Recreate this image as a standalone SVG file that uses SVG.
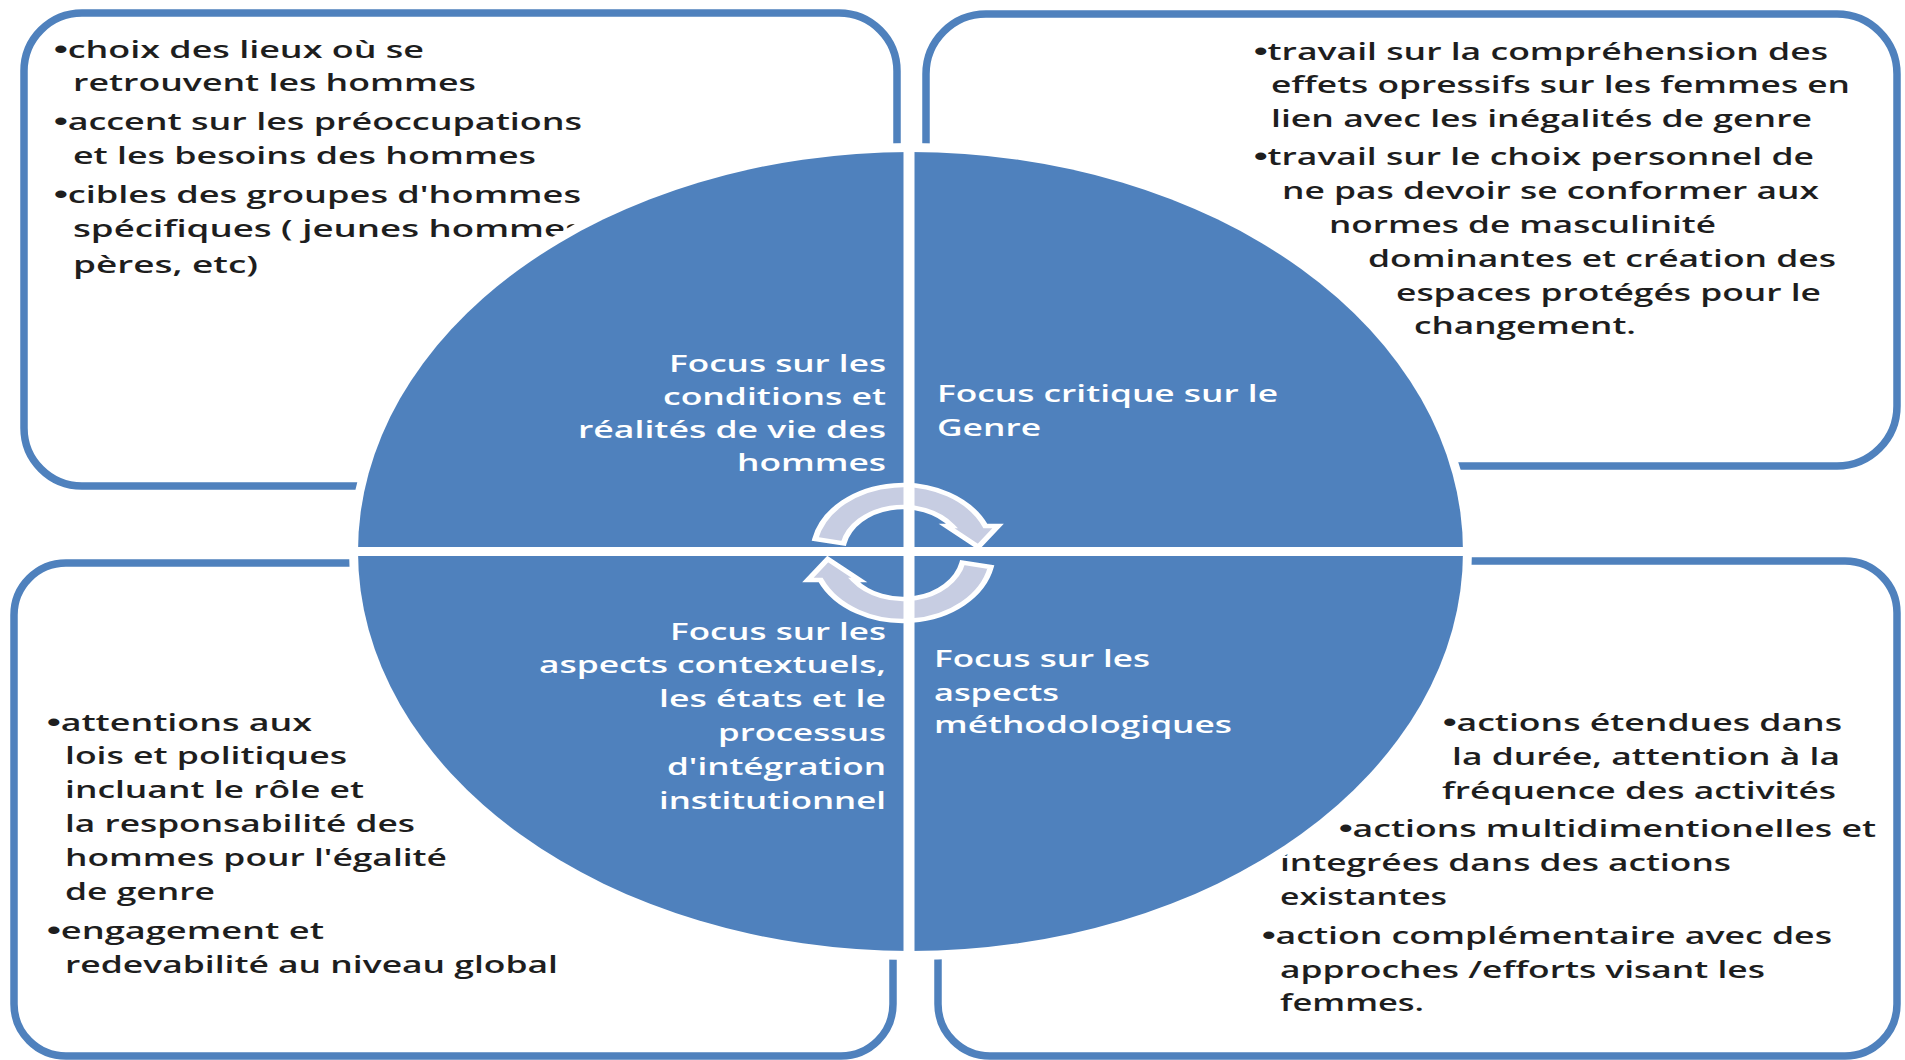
<svg xmlns="http://www.w3.org/2000/svg" width="1905" height="1060" viewBox="0 0 1905 1060">
<defs>
<style>
.box{fill:#fff;stroke:#4F81BD;stroke-width:7.5}
.t{font-family:"Open Sans",Lato,"Liberation Sans",sans-serif;font-size:23px;font-weight:600;fill:#1e1e1e}
.w{font-family:"Open Sans",Lato,"Liberation Sans",sans-serif;font-size:24px;font-weight:600;fill:#fff}
.b{font-family:"Liberation Sans",sans-serif;font-size:25px}
.arr{fill:#C7CDE2;stroke:#fff;stroke-width:4.5;stroke-linejoin:miter}
.div{stroke:#fff;fill:none}
</style>
<path id="arrowShape" d="M -66.5,-14.1 A 68 68 0 0 1 62.4,-27 L 72,-27 L 57,-6 L 33,-27 L 37.2,-27 A 46 46 0 0 0 -45,-9.6 Z"/>
</defs>
<rect width="1905" height="1060" fill="#fff"/>

<g id="box-top-left">
<rect class="box" x="24" y="13" width="873" height="473" rx="58"/>
<text class="t" lengthAdjust="spacingAndGlyphs" x="54" y="58" textLength="370"><tspan class="b">•</tspan>choix des lieux où se</text>
<text class="t" lengthAdjust="spacingAndGlyphs" x="73" y="91" textLength="403">retrouvent les hommes</text>
<text class="t" lengthAdjust="spacingAndGlyphs" x="54" y="130" textLength="528"><tspan class="b">•</tspan>accent sur les préoccupations</text>
<text class="t" lengthAdjust="spacingAndGlyphs" x="73" y="164" textLength="463">et les besoins des hommes</text>
<text class="t" lengthAdjust="spacingAndGlyphs" x="54" y="203" textLength="527"><tspan class="b">•</tspan>cibles des groupes d'hommes</text>
<text class="t" lengthAdjust="spacingAndGlyphs" x="73" y="237" textLength="510">spécifiques ( jeunes hommes</text>
<text class="t" lengthAdjust="spacingAndGlyphs" x="73" y="273" textLength="185">pères, etc)</text>
</g>

<g id="box-top-right">
<rect class="box" x="926" y="14" width="971" height="452" rx="60"/>
<text class="t" lengthAdjust="spacingAndGlyphs" x="1254" y="60" textLength="574"><tspan class="b">•</tspan>travail sur la compréhension des</text>
<text class="t" lengthAdjust="spacingAndGlyphs" x="1271" y="93" textLength="579">effets opressifs sur les femmes en</text>
<text class="t" lengthAdjust="spacingAndGlyphs" x="1271" y="127" textLength="541">lien avec les inégalités de genre</text>
<text class="t" lengthAdjust="spacingAndGlyphs" x="1254" y="165" textLength="560"><tspan class="b">•</tspan>travail sur le choix personnel de</text>
<text class="t" lengthAdjust="spacingAndGlyphs" x="1282" y="199" textLength="537">ne pas devoir se conformer aux</text>
<text class="t" lengthAdjust="spacingAndGlyphs" x="1329" y="233" textLength="387">normes de masculinité</text>
<text class="t" lengthAdjust="spacingAndGlyphs" x="1368" y="267" textLength="468">dominantes et création des</text>
<text class="t" lengthAdjust="spacingAndGlyphs" x="1396" y="301" textLength="425">espaces protégés pour le</text>
<text class="t" lengthAdjust="spacingAndGlyphs" x="1414" y="334" textLength="222">changement.</text>
</g>

<g id="box-bottom-left">
<rect class="box" x="14" y="563" width="879" height="493" rx="52"/>
<text class="t" lengthAdjust="spacingAndGlyphs" x="47" y="731" textLength="265"><tspan class="b">•</tspan>attentions aux</text>
<text class="t" lengthAdjust="spacingAndGlyphs" x="65" y="764" textLength="282">lois et politiques</text>
<text class="t" lengthAdjust="spacingAndGlyphs" x="65" y="798" textLength="299">incluant le rôle et</text>
<text class="t" lengthAdjust="spacingAndGlyphs" x="65" y="832" textLength="350">la responsabilité des</text>
<text class="t" lengthAdjust="spacingAndGlyphs" x="65" y="866" textLength="382">hommes pour l'égalité</text>
<text class="t" lengthAdjust="spacingAndGlyphs" x="65" y="900" textLength="150">de genre</text>
<text class="t" lengthAdjust="spacingAndGlyphs" x="47" y="939" textLength="277"><tspan class="b">•</tspan>engagement et</text>
<text class="t" lengthAdjust="spacingAndGlyphs" x="65" y="973" textLength="493">redevabilité au niveau global</text>
</g>

<g id="box-bottom-right">
<rect class="box" x="938" y="561" width="959" height="495" rx="52"/>
<text class="t" lengthAdjust="spacingAndGlyphs" x="1443" y="731" textLength="399"><tspan class="b">•</tspan>actions étendues dans</text>
<text class="t" lengthAdjust="spacingAndGlyphs" x="1452" y="765" textLength="388">la durée, attention à la</text>
<text class="t" lengthAdjust="spacingAndGlyphs" x="1442" y="799" textLength="394">fréquence des activités</text>
<text class="t" lengthAdjust="spacingAndGlyphs" x="1339" y="837" textLength="537"><tspan class="b">•</tspan>actions multidimentionelles et</text>
<text class="t" lengthAdjust="spacingAndGlyphs" x="1280" y="871" textLength="451">integrées dans des actions</text>
<text class="t" lengthAdjust="spacingAndGlyphs" x="1280" y="905" textLength="167">existantes</text>
<text class="t" lengthAdjust="spacingAndGlyphs" x="1262" y="944" textLength="570"><tspan class="b">•</tspan>action complémentaire avec des</text>
<text class="t" lengthAdjust="spacingAndGlyphs" x="1280" y="978" textLength="485">approches /efforts visant les</text>
<text class="t" lengthAdjust="spacingAndGlyphs" x="1280" y="1011" textLength="144">femmes.</text>
</g>

<g id="wheel">
<ellipse cx="910.5" cy="551.5" rx="561.5" ry="408.5" fill="#fff"/>
<ellipse cx="910.5" cy="551.5" rx="552.5" ry="399.5" fill="#4F81BD"/>
</g>

<g id="connectors">
<use href="#arrowShape" class="arr" vector-effect="non-scaling-stroke" transform="translate(903,553) scale(1.32,1)"/>
<use href="#arrowShape" class="arr" vector-effect="non-scaling-stroke" transform="translate(903,553) scale(1.32,1) rotate(180)"/>
</g>

<g id="dividers">
<line class="div" x1="909" y1="140" x2="909" y2="965" stroke-width="11"/>
<line class="div" x1="345" y1="551.5" x2="1475" y2="551.5" stroke-width="9"/>
</g>

<g id="quadrant-top-left">
<text class="w" lengthAdjust="spacingAndGlyphs" x="669" y="372" textLength="217">Focus sur les</text>
<text class="w" lengthAdjust="spacingAndGlyphs" x="663" y="405" textLength="223">conditions et</text>
<text class="w" lengthAdjust="spacingAndGlyphs" x="578" y="438" textLength="308">réalités de vie des</text>
<text class="w" lengthAdjust="spacingAndGlyphs" x="737" y="471" textLength="149">hommes</text>
</g>

<g id="quadrant-top-right">
<text class="w" lengthAdjust="spacingAndGlyphs" x="937" y="402" textLength="341">Focus critique sur le</text>
<text class="w" lengthAdjust="spacingAndGlyphs" x="937" y="436" textLength="104">Genre</text>
</g>

<g id="quadrant-bottom-left">
<text class="w" lengthAdjust="spacingAndGlyphs" x="670" y="640" textLength="216">Focus sur les</text>
<text class="w" lengthAdjust="spacingAndGlyphs" x="539" y="673" textLength="347">aspects contextuels,</text>
<text class="w" lengthAdjust="spacingAndGlyphs" x="659" y="707" textLength="227">les états et le</text>
<text class="w" lengthAdjust="spacingAndGlyphs" x="718" y="741" textLength="168">processus</text>
<text class="w" lengthAdjust="spacingAndGlyphs" x="667" y="775" textLength="219">d'intégration</text>
<text class="w" lengthAdjust="spacingAndGlyphs" x="659" y="809" textLength="227">institutionnel</text>
</g>

<g id="quadrant-bottom-right">
<text class="w" lengthAdjust="spacingAndGlyphs" x="934" y="667" textLength="216">Focus sur les</text>
<text class="w" lengthAdjust="spacingAndGlyphs" x="934" y="701" textLength="125">aspects</text>
<text class="w" lengthAdjust="spacingAndGlyphs" x="934" y="733" textLength="298">méthodologiques</text>
</g>
</svg>
